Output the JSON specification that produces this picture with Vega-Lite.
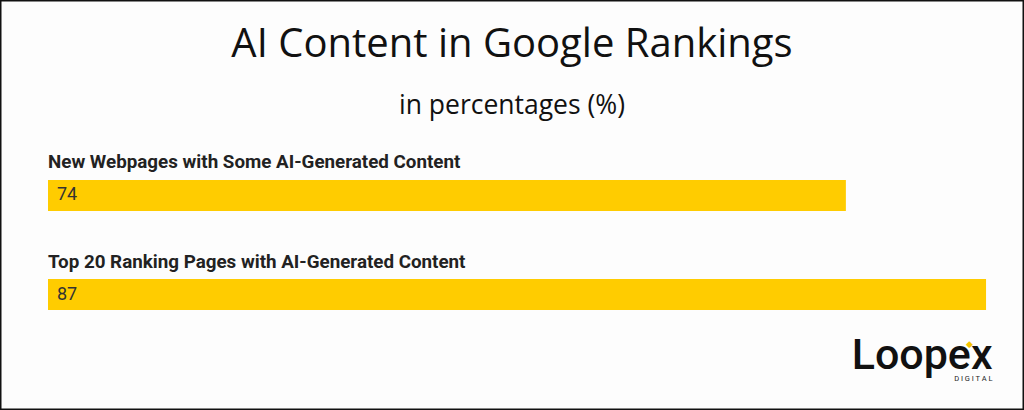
{
  "$schema": "https://vega.github.io/schema/vega-lite/v6.json",
  "width": 1024,
  "height": 410,
  "autosize": "none",
  "padding": 0,
  "background": "#fdfdfd",
  "title": {
    "text": "AI Content in Google Rankings",
    "subtitle": "in percentages (%)",
    "anchor": "middle",
    "frame": "group",
    "offset": -119,
    "font": "Open Sans",
    "fontSize": 40,
    "fontWeight": 400,
    "color": "#111",
    "subtitleFont": "Open Sans",
    "subtitleFontSize": 26.5,
    "subtitleColor": "#111",
    "subtitlePadding": 28
  },
  "data": {
    "values": [
      {"label": "New Webpages with Some AI-Generated Content", "value": 74},
      {"label": "Top 20 Ranking Pages with AI-Generated Content", "value": 87}
    ]
  },
  "encoding": {
    "y": {
      "field": "label",
      "type": "nominal",
      "sort": null,
      "axis": null,
      "scale": {"range": [180, 310], "paddingInner": 0.6869, "paddingOuter": 0, "round": false}
    }
  },
  "layer": [
    {
      "mark": {"type": "bar", "color": "#ffcc00"},
      "encoding": {
        "x": {
          "field": "value",
          "type": "quantitative",
          "axis": null,
          "scale": {"domain": [-4.452, 90.52], "nice": false, "zero": false}
        }
      }
    },
    {
      "mark": {"type": "text", "align": "left", "baseline": "middle", "dy": -33, "font": "Roboto", "fontSize": 18.8, "fontWeight": "bold", "color": "#222"},
      "encoding": {
        "x": {"datum": 0, "type": "quantitative"},
        "text": {"field": "label"}
      }
    },
    {
      "mark": {"type": "text", "align": "left", "baseline": "middle", "dx": 9, "font": "Roboto", "fontSize": 18, "color": "#333"},
      "encoding": {
        "x": {"datum": 0, "type": "quantitative"},
        "text": {"field": "value"}
      }
    },
    {
      "data": {"values": [{"t": "Loopex"}]},
      "mark": {"type": "text", "align": "right", "baseline": "alphabetic", "dy": 74, "font": "Roboto", "fontSize": 43, "fontWeight": 500, "color": "#111"},
      "encoding": {
        "x": {"datum": 87.6, "type": "quantitative"},
        "y": {"datum": "Top 20 Ranking Pages with AI-Generated Content"},
        "text": {"field": "t"}
      }
    },
    {
      "data": {"values": [{"t": "D I G I T A L"}]},
      "mark": {"type": "text", "align": "right", "baseline": "middle", "dy": 84, "font": "Roboto", "fontSize": 7.5, "color": "#222"},
      "encoding": {
        "x": {"datum": 87.6, "type": "quantitative"},
        "y": {"datum": "Top 20 Ranking Pages with AI-Generated Content"},
        "text": {"field": "t"}
      }
    },
    {
      "data": {"values": [{"t": "◆"}]},
      "mark": {"type": "text", "align": "center", "baseline": "middle", "dy": 49.5, "fontSize": 9, "color": "#f5c400"},
      "encoding": {
        "x": {"datum": 85.5, "type": "quantitative"},
        "y": {"datum": "Top 20 Ranking Pages with AI-Generated Content"},
        "text": {"field": "t"}
      }
    }
  ],
  "config": {
    "view": {"stroke": "#111", "strokeWidth": 3}
  }
}
